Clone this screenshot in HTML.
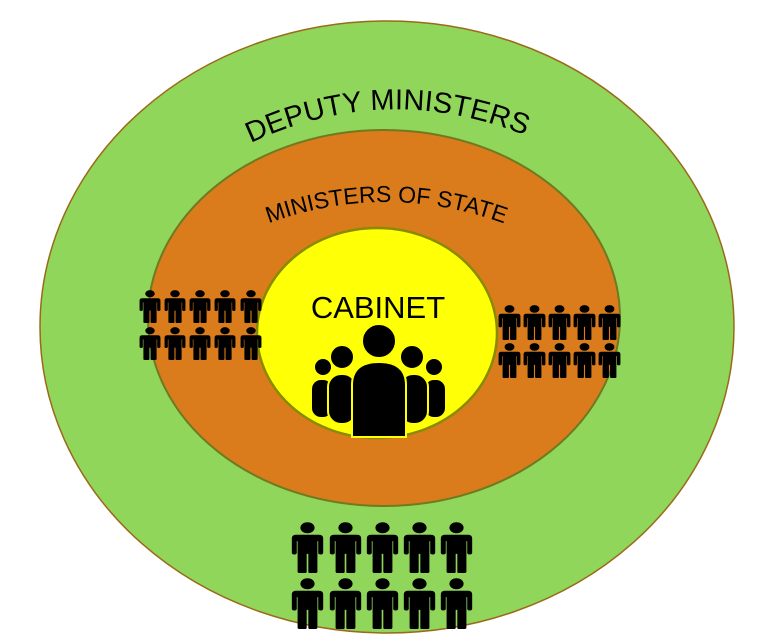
<!DOCTYPE html>
<html><head><style>html,body{margin:0;padding:0;background:#fff}svg{display:block}</style></head>
<body>
<svg width="779" height="643" viewBox="0 0 779 643" xmlns="http://www.w3.org/2000/svg">
<defs>
<symbol id="p" viewBox="0 0 20 40" preserveAspectRatio="none">
<circle cx="10" cy="4.5" r="4.3" fill="#000"/>
<path d="M3 10 H17 Q19.5 10 19.5 13 V24 Q19.5 25.5 18 25.5 Q16.5 25.5 16.5 24 V15 H16 V39 Q16 40 14.5 40 H11.5 Q10.5 40 10.5 39 V25 H9.5 V39 Q9.5 40 8.5 40 H5.5 Q4 40 4 39 V15 H3.5 V24 Q3.5 25.5 2 25.5 Q0.5 25.5 0.5 24 V13 Q0.5 10 3 10 Z" fill="#000"/>
</symbol>
<path id="a1" d="M215 162 Q385 62 562 152"/>
<path id="a2" d="M238 236 Q385 168 535 236"/>
</defs>
<ellipse cx="387" cy="327" rx="347" ry="306" fill="#8fd65a" stroke="#9a6a1a" stroke-width="1.5"/>
<ellipse cx="384" cy="318" rx="236" ry="188" fill="#da7b1c" stroke="#6f7a20" stroke-width="2"/>
<ellipse cx="377" cy="333" rx="120" ry="105" fill="#ffff05" stroke="#8a8a00" stroke-width="2.5"/>
<text font-family="Liberation Sans, sans-serif" font-size="29" fill="#000"><textPath href="#a1" startOffset="50%" text-anchor="middle">DEPUTY MINISTERS</textPath></text>
<text font-family="Liberation Sans, sans-serif" font-size="23" fill="#000"><textPath href="#a2" startOffset="50%" text-anchor="middle">MINISTERS OF STATE</textPath></text>
<text x="378" y="318" text-anchor="middle" font-family="Liberation Sans, sans-serif" font-size="31" fill="#000">CABINET</text>
<g fill="#000">
<circle cx="323" cy="367" r="8"/><rect x="312" y="380" width="20" height="37" rx="9"/>
<circle cx="434" cy="367" r="8"/><rect x="425" y="380" width="20" height="37" rx="9"/>
<circle cx="342" cy="357" r="12" stroke="#ffff05" stroke-width="2"/><rect x="328" y="374" width="28" height="50" rx="13" stroke="#ffff05" stroke-width="2"/>
<circle cx="412" cy="357" r="12" stroke="#ffff05" stroke-width="2"/><rect x="400" y="374" width="28" height="50" rx="13" stroke="#ffff05" stroke-width="2"/>
<circle cx="379" cy="341" r="17" stroke="#ffff05" stroke-width="2"/><path d="M352 437 V385 Q352 362 379 362 Q406 362 406 385 V437 Z" stroke="#ffff05" stroke-width="2"/>
</g>
<g>
<use href="#p" x="139" y="290" width="22" height="33"/><use href="#p" x="164" y="290" width="22" height="33"/><use href="#p" x="189" y="290" width="22" height="33"/><use href="#p" x="214" y="290" width="22" height="33"/><use href="#p" x="240" y="290" width="22" height="33"/>
<use href="#p" x="139" y="327" width="22" height="33"/><use href="#p" x="164" y="327" width="22" height="33"/><use href="#p" x="189" y="327" width="22" height="33"/><use href="#p" x="214" y="327" width="22" height="33"/><use href="#p" x="240" y="327" width="22" height="33"/>
</g>
<g>
<use href="#p" x="498" y="305" width="23" height="35"/><use href="#p" x="523" y="305" width="23" height="35"/><use href="#p" x="548" y="305" width="23" height="35"/><use href="#p" x="573" y="305" width="23" height="35"/><use href="#p" x="598" y="305" width="23" height="35"/>
<use href="#p" x="498" y="343" width="23" height="35"/><use href="#p" x="523" y="343" width="23" height="35"/><use href="#p" x="548" y="343" width="23" height="35"/><use href="#p" x="573" y="343" width="23" height="35"/><use href="#p" x="598" y="343" width="23" height="35"/>
</g>
<g>
<use href="#p" x="291" y="522" width="33" height="51"/><use href="#p" x="329" y="522" width="33" height="51"/><use href="#p" x="366" y="522" width="33" height="51"/><use href="#p" x="403" y="522" width="33" height="51"/><use href="#p" x="440" y="522" width="33" height="51"/>
<use href="#p" x="291" y="578" width="33" height="51"/><use href="#p" x="329" y="578" width="33" height="51"/><use href="#p" x="366" y="578" width="33" height="51"/><use href="#p" x="403" y="578" width="33" height="51"/><use href="#p" x="440" y="578" width="33" height="51"/>
</g>
</svg>
</body></html>
